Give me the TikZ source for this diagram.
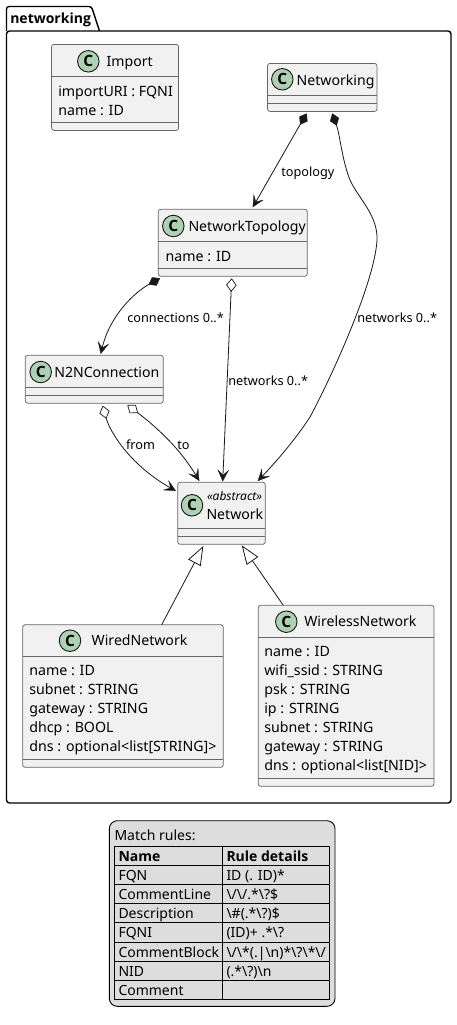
\documentclass[tikz,border=0pt]{standalone}
\usepackage{fontspec}
\setmainfont[Ligatures={NoCommon}]{Noto Sans}
\newfontfamily\bfam{Open Sans}
\usetikzlibrary{arrows.meta}
\definecolor{ink}{HTML}{181818}
\definecolor{edge}{HTML}{666666}
\definecolor{boxfill}{HTML}{F1F1F1}
\definecolor{spotfill}{HTML}{ADD1B2}
\definecolor{legendfill}{HTML}{DDDDDD}
\newcommand{\fs}[1]{\fontsize{#1}{#1}\selectfont}
\newcommand{\bs}{\textbackslash{}}
\tikzset{
  classbox/.style={draw=edge,line width=.75pt,fill=boxfill,rounded corners=2.5pt,inner sep=0,outer sep=0,anchor=north west},
  classrule/.style={draw=edge,line width=.75pt},
  spot/.style={circle,draw=ink,line width=.9pt,fill=spotfill,minimum size=21.5pt,inner sep=0,outer sep=0,font=\fs{15.5}\bfam\bfseries,text=black},
  cname/.style={anchor=base west,inner sep=0,outer sep=0,font=\fs{14.1}},
  member/.style={anchor=base west,inner sep=0,outer sep=0,font=\fs{14.2}},
  tablecell/.style={anchor=base west,inner sep=0,outer sep=0,font=\fs{14}},
  tablehead/.style={anchor=base west,inner sep=0,outer sep=0,font=\fs{14}\bfam\bfseries},
  edgelabel/.style={anchor=base west,inner sep=0,outer sep=0,font=\fs{12.7}},
  link/.style={draw=ink,line width=.8pt},
  vee/.tip={Stealth[length=12pt,width=11.5pt,inset=5.5pt,fill=ink,color=ink,line width=.3pt]},
  filleddia/.tip={Diamond[length=13pt,width=9.5pt,fill=ink,color=ink,line width=.3pt]},
  opendia/.tip={Diamond[length=13.5pt,width=10.5pt,fill=white,color=ink,line width=.7pt]},
  hollowtri/.tip={Triangle[length=19pt,width=14pt,fill=white,color=ink,line width=.8pt]},
}
\newcommand{\crule}[2]{\draw[classrule] ([yshift=-#2pt]#1.north west) -- ([yshift=-#2pt]#1.north east);}
\begin{document}
\begin{tikzpicture}[x=1pt,y=-1pt]
\useasboundingbox (0,0) rectangle (456,1025);
\fill[white] (0,0) rectangle (456,1025);

% package
\draw[black,line width=1.4pt,line join=round,rounded corners=2.5pt]
  (6.5,31) -- (6.5,6.5) -- (91.5,6.5) -- (99.5,31) ;
\draw[black,line width=1.4pt,line join=round,rounded corners=3pt]
  (6.5,31) -- (451,31) -- (451,803) -- (6.5,803) -- cycle;
\node[tablehead] (pkgtitle) at (10.3,24) {networking};

% classes
\node[classbox,minimum width=127pt,minimum height=86pt] (imp) at (51.6,44.4) {};
\crule{imp}{32}\crule{imp}{78}
\node[spot] (impC) at (88.3,61.3) {C};
\node[cname] (impN) at (106.7,66.3) {Import};
\node[member] (impA) at (58.3,96) {importURI : FQNI};
\node[member] (impB) at (58.3,115) {name : ID};

\node[classbox,minimum width=109.5pt,minimum height=48pt] (ntw) at (267.5,63.4) {};
\crule{ntw}{32}\crule{ntw}{40}
\node[spot] (ntwC) at (282.3,79.3) {C};
\node[cname] (ntwN) at (296.7,85) {Networking};

\node[classbox,minimum width=149pt,minimum height=67pt] (top) at (158.3,209.3) {};
\crule{top}{32.3}\crule{top}{59}
\node[spot] (topC) at (173.3,226) {C};
\node[cname] (topN) at (188.5,231.7) {NetworkTopology};
\node[member] (topA) at (165.7,261) {name : ID};

\node[classbox,minimum width=138pt,minimum height=48pt] (n2n) at (25.3,355.3) {};
\crule{n2n}{32}\crule{n2n}{40}
\node[spot] (n2nC) at (40.7,372) {C};
\node[cname] (n2nN) at (54.3,377.3) {N2NConnection};

\node[classbox,minimum width=87.6pt,minimum height=62pt] (net) at (177.7,482.3) {};
\crule{net}{46}\crule{net}{54}
\node[spot] (netC) at (192,505.3) {C};
\node[anchor=base west,inner sep=0,outer sep=0,font=\fs{12}\itshape] (netS) at (207,500.7) {«abstract»};
\node[cname] (netN) at (206.5,519.2) {Network};

\node[classbox,minimum width=200.6pt,minimum height=142.6pt] (wir) at (22.7,624.7) {};
\crule{wir}{32}\crule{wir}{134.6}
\node[spot] (wirC) at (70,640.7) {C};
\node[cname] (wirN) at (91.7,645.7) {WiredNetwork};
\node[member] (wirA) at (29.3,675) {name : ID};
\node[member] (wirB) at (29.3,694) {subnet : STRING};
\node[member] (wirD) at (29.3,713) {gateway : STRING};
\node[member] (wirE) at (29.3,732) {dhcp : BOOL};
\node[member] (wirF) at (29.3,751.5) {dns : optional<list[STRING]>};

\node[classbox,minimum width=175.7pt,minimum height=181pt] (wls) at (258.3,605.3) {};
\crule{wls}{32}\crule{wls}{173}
\node[spot] (wlsC) at (286.3,621.7) {C};
\node[cname] (wlsN) at (304.3,626.7) {WirelessNetwork};
\node[member] (wlsA) at (264.3,656) {name : ID};
\node[member] (wlsB) at (264.3,675) {wifi\_ssid : STRING};
\node[member] (wlsD) at (264.3,694) {psk : STRING};
\node[member] (wlsE) at (264.3,713) {ip : STRING};
\node[member] (wlsF) at (264.3,732) {subnet : STRING};
\node[member] (wlsG) at (264.3,751.5) {gateway : STRING};
\node[member] (wlsH) at (264.3,770.5) {dns : optional<list[NID]>};

% connectors
\draw[link,{filleddia}-{vee}] ([shift={(39.2,2)}]ntw.south west)
  .. controls (294,135) and (265,186) .. ([shift={(94.4,-2)}]top.north west);
\draw[link,{filleddia}-{vee}] ([shift={(64.8,2)}]ntw.south west)
  .. controls (340,135) and (342,160) .. (350,180)
  .. controls (358,198) and (378,215) .. (377,240)
  .. controls (375,280) and (335,370) .. (310,417)
  .. controls (295,440) and (275,463) .. ([shift={(80,-1.3)}]net.north west);
\draw[link,{filleddia}-{vee}] ([shift={(1.7,2)}]top.south west)
  .. controls (135,292) and (110,315) .. ([shift={(75.4,-1.3)}]n2n.north west);
\draw[link,{opendia}-{vee}] ([shift={(73.4,2)}]top.south west) -- ([shift={(45,-.8)}]net.north west);
\draw[link,{opendia}-{vee}] ([shift={(77.4,2.4)}]n2n.south west)
  .. controls (110,432) and (130,465) .. ([shift={(-1.7,8.7)}]net.north west);
\draw[link,{opendia}-{vee}] ([shift={(102,1.7)}]n2n.south west)
  .. controls (150,422) and (178,445) .. ([shift={(21.6,-1.3)}]net.north west);
\draw[link,{hollowtri}-] ([shift={(25.6,1.7)}]net.south west) -- ([shift={(139,0)}]wir.north west);
\draw[link,{hollowtri}-] ([shift={(64,1)}]net.south west) -- ([shift={(25,0)}]wls.north west);

% connector labels
\node[edgelabel] (l1) at (281.3,176) {topology};
\node[edgelabel] (l2) at (357.3,322.2) {networks 0..*};
\node[edgelabel] (l3) at (228.3,385) {networks 0..*};
\node[edgelabel] (l4) at (127.3,322.2) {connections 0..*};
\node[edgelabel] (l5) at (126,449) {from};
\node[edgelabel] (l6) at (177.3,449) {to};

% legend
\node[draw=black,line width=.9pt,fill=legendfill,rounded corners=8pt,inner sep=0,outer sep=0,anchor=north west,minimum width=225.7pt,minimum height=185.6pt] (leg) at (109.3,820.7) {};
\node[tablecell] (legT) at (114.5,840.7) {Match rules:};
\node[draw=black,line width=.9pt,inner sep=0,outer sep=0,anchor=north west,minimum width=215.4pt,minimum height=153pt] (tbl) at (114.3,846.3) {};
\draw[black,line width=.9pt] ([xshift=108pt]tbl.north west) -- ([xshift=108pt]tbl.south west);
\foreach \d in {19,38,57.2,76.2,95.7,114.7,133.8}
  \draw[black,line width=.9pt] ([yshift=-\d pt]tbl.north west) -- ([yshift=-\d pt]tbl.north east);
\node[tablehead] (h1) at (118.5,861.7) {Name};
\node[tablehead] (h2) at (226.5,861.7) {Rule details};
\node[tablecell] (a1) at (118.5,880.7) {FQN};
\node[tablecell] (b1) at (226.5,880.7) {ID (. ID)*};
\node[tablecell] (a2) at (118.5,899.7) {CommentLine};
\node[tablecell] (b2) at (226.5,899.7) {\bs/\bs/.*\bs?\$};
\node[tablecell] (a3) at (118.5,918.7) {Description};
\node[tablecell] (b3) at (226.5,918.7) {\bs\#(.*\bs?)\$};
\node[tablecell] (a4) at (118.5,937.7) {FQNI};
\node[tablecell] (b4) at (226.5,937.7) {(ID)+ .*\bs?};
\node[tablecell] (a5) at (118.5,957) {CommentBlock};
\node[tablecell] (b5) at (226.5,957) {\bs/\bs*(.|\bs n)*\bs?\bs*\bs/};
\node[tablecell] (a6) at (118.5,976) {NID};
\node[tablecell] (b6) at (226.5,976) {(.*\bs?)\bs n};
\node[tablecell] (a7) at (118.5,995) {Comment};
\end{tikzpicture}
\end{document}
